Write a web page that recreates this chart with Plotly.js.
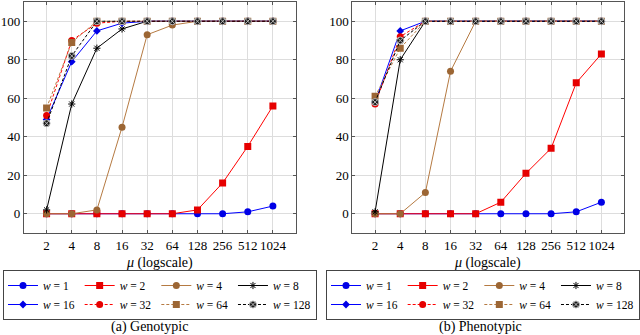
<!DOCTYPE html>
<html>
<head>
<meta charset="utf-8">
<script src="https://cdn.plot.ly/plotly-3.0.1.min.js"></script>
<style>
  html, body { margin: 0; padding: 0; background: #fff; }
  #chart { width: 640px; height: 335px; }
</style>
</head>
<body>
<div id="chart"></div>
<script>
// population size mu (log scale) and the w values of each series
const mu = [2, 4, 8, 16, 32, 64, 128, 256, 512, 1024];
const wValues = [1, 2, 4, 8, 16, 32, 64, 128];

// (a) Genotypic
const geno1 = [0, 0, 0, 0, 0, 0, 0, 0, 1, 4];
const geno2 = [0, 0, 0, 0, 0, 0, 2, 16, 35, 56];
const geno4 = [0, 0, 2, 45, 93, 98, 100, 100, 100, 100];
const geno8 = [2, 57, 86, 96, 100, 100, 100, 100, 100, 100];
const geno16 = [49, 79, 95, 99, 100, 100, 100, 100, 100, 100];
const geno32 = [51, 90, 99, 100, 100, 100, 100, 100, 100, 100];
const geno64 = [55, 89, 100, 100, 100, 100, 100, 100, 100, 100];
const geno128 = [47, 82, 100, 100, 100, 100, 100, 100, 100, 100];

// (b) Phenotypic
const pheno1 = [0, 0, 0, 0, 0, 0, 0, 0, 1, 6];
const pheno2 = [0, 0, 0, 0, 0, 6, 21, 34, 68, 83];
const pheno4 = [0, 0, 11, 74, 100, 100, 100, 100, 100, 100];
const pheno8 = [1, 80, 100, 100, 100, 100, 100, 100, 100, 100];
const pheno16 = [58, 95, 100, 100, 100, 100, 100, 100, 100, 100];
const pheno32 = [57, 92, 100, 100, 100, 100, 100, 100, 100, 100];
const pheno64 = [61, 86, 100, 100, 100, 100, 100, 100, 100, 100];
const pheno128 = [58, 90, 100, 100, 100, 100, 100, 100, 100, 100];

const genotypic = [geno1, geno2, geno4, geno8, geno16, geno32, geno64, geno128];
const phenotypic = [pheno1, pheno2, pheno4, pheno8, pheno16, pheno32, pheno64, pheno128];

const FONT = 'Liberation Serif, Times New Roman, serif';
const BROWN = '#b57a42';

// pgfplots-like cycle list
const styles = [
  {line: '#0000ff', dash: 'solid', symbol: 'circle', mcolor: '#0000e6', size: 7},
  {line: '#ff0000', dash: 'solid', symbol: 'square', mcolor: '#e60000', size: 7},
  {line: BROWN, dash: 'solid', symbol: 'circle', mcolor: '#9c6634', size: 7},
  {line: '#000000', dash: 'solid', symbol: 'asterisk-open', mcolor: '#000000', size: 6},
  {line: '#0000ff', dash: 'solid', symbol: 'diamond', mcolor: '#0000e6', size: 6},
  {line: '#ff0000', dash: '3px,2px', symbol: 'circle', mcolor: '#e60000', size: 7},
  {line: BROWN, dash: '3px,2px', symbol: 'square', mcolor: '#9c6634', size: 7},
  {line: '#000000', dash: '3px,2px', symbol: 'circle-x', mcolor: '#1a1a1a', size: 7}
];

function makeTraces(series, xa, ya, legend) {
  return series.map((ys, i) => {
    const s = styles[i];
    const marker = {symbol: s.symbol, size: s.size, color: s.mcolor};
    if (s.symbol === 'asterisk-open') marker.line = {color: '#000', width: 1};
    else if (s.symbol === 'circle-x') marker.line = {color: '#bbbbbb', width: 1};
    else marker.line = {width: 0};
    return {
      type: 'scatter',
      mode: 'lines+markers',
      x: mu,
      y: ys,
      xaxis: xa,
      yaxis: ya,
      name: '<i>w</i> = ' + wValues[i],
      legend: legend,
      legendgroup: legend + '-' + (i % 4),
      line: {color: s.line, width: 1, dash: s.dash},
      marker: marker
    };
  });
}

const data = makeTraces(genotypic, 'x', 'y', 'legend')
  .concat(makeTraces(phenotypic, 'x2', 'y2', 'legend2'));

const lg2 = Math.log10(2);
function xAxis(domain, anchor) {
  return {
    domain: domain,
    anchor: anchor,
    type: 'log',
    range: [lg2 - 0.9 * lg2, Math.log10(1024) + 0.9 * lg2],
    tickmode: 'array',
    tickvals: mu,
    ticktext: mu.map(String),
    tickangle: 0,
    tickfont: {family: FONT, size: 13, color: '#000'},
    showgrid: true,
    gridcolor: '#dddddd',
    showline: true,
    linecolor: '#555',
    linewidth: 1,
    mirror: 'allticks',
    ticks: 'inside',
    ticklen: 3,
    tickcolor: '#555',
    zeroline: false
  };
}
function yAxis(anchor) {
  return {
    domain: [1 - 233 / 335, 1 - 2 / 335],
    anchor: anchor,
    range: [-10, 110],
    tickmode: 'array',
    tickvals: [0, 20, 40, 60, 80, 100],
    tickfont: {family: FONT, size: 13, color: '#000'},
    showgrid: true,
    gridcolor: '#dddddd',
    showline: true,
    linecolor: '#555',
    linewidth: 1,
    mirror: 'allticks',
    ticks: 'inside',
    ticklen: 3,
    tickcolor: '#555',
    zeroline: false
  };
}

function legendBox(cx) {
  return {
    x: cx,
    xanchor: 'center',
    y: 1 - 270 / 335,
    yanchor: 'top',
    orientation: 'h',
    traceorder: 'grouped',
    itemwidth: 30,
    bgcolor: '#fff',
    bordercolor: '#444',
    borderwidth: 1,
    font: {family: FONT, size: 11.5, color: '#000'}
  };
}

const leftCenter = 160 / 640;
const rightCenter = 488 / 640;

function label(text, cx, cy, size) {
  return {
    text: text, x: cx, y: 1 - cy / 335, xref: 'paper', yref: 'paper',
    xanchor: 'center', yanchor: 'middle', showarrow: false,
    font: {family: FONT, size: size, color: '#000'}
  };
}

const layout = {
  width: 640,
  height: 335,
  margin: {l: 0, r: 0, t: 0, b: 0},
  paper_bgcolor: '#fff',
  plot_bgcolor: '#fff',
  showlegend: true,
  xaxis: xAxis([24 / 640, 296 / 640], 'y'),
  yaxis: yAxis('x'),
  xaxis2: xAxis([353 / 640, 625 / 640], 'y2'),
  yaxis2: yAxis('x2'),
  legend: legendBox(leftCenter),
  legend2: legendBox(484 / 640),
  annotations: [
    label('<i>μ</i> (logscale)', leftCenter, 263, 14),
    label('<i>μ</i> (logscale)', rightCenter, 263, 14),
    label('(a) Genotypic', 150 / 640, 327, 14),
    label('(b) Phenotypic', 481 / 640, 327, 14)
  ]
};

Plotly.newPlot('chart', data, layout, {displayModeBar: false, staticPlot: true});
</script>
</body>
</html>
